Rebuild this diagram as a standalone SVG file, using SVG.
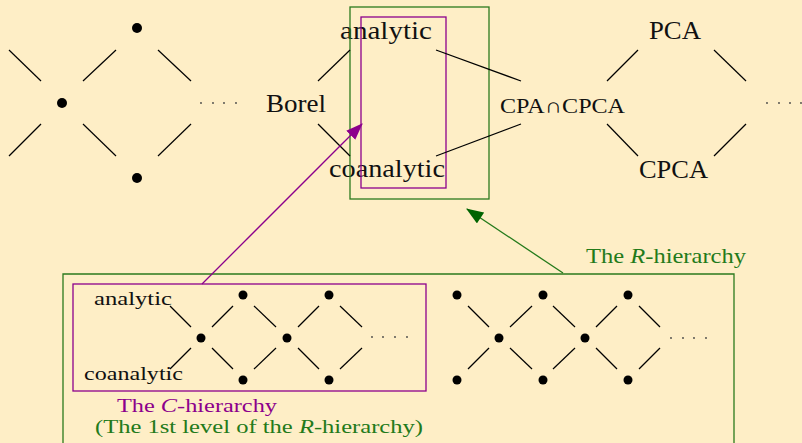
<svg xmlns="http://www.w3.org/2000/svg" width="802" height="443" viewBox="0 0 802 443">
  <style>
    .bg { fill: #feeec6; }
    .edge { stroke: #000; stroke-width: 1.2; fill: none; }
    .dot { fill: #000; }
    .ell { fill: #444; }
    .lbl { font-family: "Liberation Serif", "DejaVu Serif", serif; fill: #111; }
    .big { font-size: 25px; }
    .mid { font-size: 21px; }
    .cap { font-size: 18px; }
    .small { font-size: 19px; }
    .pbox { fill: none; stroke: #8c008c; stroke-width: 1.3; }
    .gbox { fill: none; stroke: #2b7a1e; stroke-width: 1.3; }
    .ptxt { fill: #8c008c; }
    .gtxt { fill: #237a1a; }
  </style>
  <defs>
    <marker id="headP" viewBox="0 0 16 12" refX="15" refY="6" markerWidth="17" markerHeight="13" markerUnits="userSpaceOnUse" orient="auto">
      <path d="M0,0 L16,6 L0,12 z" fill="#8c008c"/>
    </marker>
    <marker id="headG" viewBox="0 0 16 12" refX="15" refY="6" markerWidth="18" markerHeight="13" markerUnits="userSpaceOnUse" orient="auto">
      <path d="M0,0 L16,6 L0,12 z" fill="#006400"/>
    </marker>
  </defs>

  <rect class="bg" x="0" y="0" width="802" height="443"/>

  <!-- upper lattice: generic diamond on the left -->
  <g id="upper-generic">
    <circle class="dot" cx="137" cy="28" r="5"/>
    <circle class="dot" cx="62" cy="103" r="5"/>
    <circle class="dot" cx="137" cy="178" r="5"/>
    <g class="ell">
      <circle cx="201" cy="103" r="0.9"/><circle cx="213" cy="103" r="0.9"/>
      <circle cx="224" cy="103" r="0.9"/><circle cx="236" cy="103" r="0.9"/>
    </g>
  </g>

  <g id="node-borel"><text class="lbl big" x="266" y="112" textLength="60" lengthAdjust="spacingAndGlyphs">Borel</text></g>
  <g id="node-analytic"><text class="lbl big" x="340" y="39" textLength="92" lengthAdjust="spacingAndGlyphs">analytic</text></g>
  <g id="node-coanalytic"><text class="lbl big" x="329" y="177" textLength="116" lengthAdjust="spacingAndGlyphs">coanalytic</text></g>
  <g id="node-cpa-cpca"><text class="lbl mid" x="500" y="113" textLength="125" lengthAdjust="spacingAndGlyphs">CPA∩CPCA</text></g>
  <g id="node-pca"><text class="lbl big" x="649" y="39" textLength="52" lengthAdjust="spacingAndGlyphs">PCA</text></g>
  <g id="node-cpca"><text class="lbl big" x="639" y="178" textLength="69" lengthAdjust="spacingAndGlyphs">CPCA</text></g>
  <g id="upper-ellipsis" class="ell">
    <circle cx="767" cy="103" r="0.9"/><circle cx="779" cy="103" r="0.9"/>
    <circle cx="790" cy="103" r="0.9"/><circle cx="801" cy="103" r="0.9"/>
  </g>

  <!-- boxes around the first level -->
  <g id="box-r-top"><rect class="gbox" x="350" y="7" width="139" height="192"/></g>
  <g id="box-c-top"><rect class="pbox" x="361" y="17" width="85" height="171"/></g>

  <!-- lower panel: R-hierarchy -->
  <g id="panel-r">
    <path class="gbox" d="M63,450 L63,274 L734,274 L734,450"/>
    <text class="lbl mid gtxt" x="586" y="263" textLength="160" lengthAdjust="spacingAndGlyphs">The <tspan font-style="italic">R</tspan>-hierarchy</text>
    <text class="lbl cap gtxt" x="95" y="433" textLength="328" lengthAdjust="spacingAndGlyphs">(The 1st level of the <tspan font-style="italic">R</tspan>-hierarchy)</text>
  </g>

  <!-- lower panel: C-hierarchy -->
  <g id="panel-c">
    <rect class="pbox" x="73" y="284" width="353" height="107"/>
    <text class="lbl small" x="94" y="305" textLength="78" lengthAdjust="spacingAndGlyphs">analytic</text>
    <text class="lbl small" x="84" y="380" textLength="99" lengthAdjust="spacingAndGlyphs">coanalytic</text>
    <text class="lbl cap ptxt" x="117" y="412" textLength="160" lengthAdjust="spacingAndGlyphs">The <tspan font-style="italic">C</tspan>-hierarchy</text>
    <circle class="dot" cx="243" cy="295" r="4.5"/>
    <circle class="dot" cx="329" cy="295" r="4.5"/>
    <circle class="dot" cx="201" cy="338" r="4.5"/>
    <circle class="dot" cx="287" cy="338" r="4.5"/>
    <circle class="dot" cx="243" cy="380" r="4.5"/>
    <circle class="dot" cx="329" cy="380" r="4.5"/>
    <g class="ell">
      <circle cx="372" cy="337" r="0.9"/><circle cx="383" cy="337" r="0.9"/>
      <circle cx="395" cy="337" r="0.9"/><circle cx="407" cy="337" r="0.9"/>
    </g>
  </g>

  <!-- lower panel: a later level -->
  <g id="panel-level">
    <circle class="dot" cx="457" cy="295" r="4.5"/>
    <circle class="dot" cx="543" cy="295" r="4.5"/>
    <circle class="dot" cx="628" cy="295" r="4.5"/>
    <circle class="dot" cx="499" cy="338" r="4.5"/>
    <circle class="dot" cx="585" cy="338" r="4.5"/>
    <circle class="dot" cx="457" cy="380" r="4.5"/>
    <circle class="dot" cx="543" cy="380" r="4.5"/>
    <circle class="dot" cx="628" cy="380" r="4.5"/>
    <g class="ell">
      <circle cx="671" cy="338" r="0.9"/><circle cx="683" cy="338" r="0.9"/>
      <circle cx="694" cy="338" r="0.9"/><circle cx="706" cy="338" r="0.9"/>
    </g>
  </g>

  <!-- connectors -->
  <g id="connectors">
    <g class="edge">
      <!-- upper generic diamond -->
      <line x1="9" y1="50" x2="41" y2="81"/>
      <line x1="9" y1="156" x2="41" y2="124"/>
      <line x1="83" y1="81" x2="116" y2="50"/>
      <line x1="83" y1="124" x2="116" y2="156"/>
      <line x1="158" y1="50" x2="191" y2="81"/>
      <line x1="158" y1="156" x2="191" y2="124"/>
      <!-- Borel / analytic / coanalytic / CPA -->
      <line x1="318" y1="81" x2="350" y2="50"/>
      <line x1="318" y1="124" x2="350" y2="156"/>
      <line x1="436" y1="50" x2="521" y2="81"/>
      <line x1="436" y1="156" x2="521" y2="124"/>
      <line x1="607" y1="81" x2="638" y2="50"/>
      <line x1="607" y1="124" x2="638" y2="156"/>
      <line x1="714" y1="50" x2="746" y2="81"/>
      <line x1="714" y1="156" x2="746" y2="124"/>
      <!-- C-hierarchy lattice -->
      <line x1="170" y1="306" x2="191" y2="327"/>
      <line x1="170" y1="369" x2="191" y2="348"/>
      <line x1="212" y1="327" x2="233" y2="306"/>
      <line x1="212" y1="348" x2="233" y2="369"/>
      <line x1="254" y1="306" x2="276" y2="327"/>
      <line x1="254" y1="369" x2="276" y2="348"/>
      <line x1="298" y1="327" x2="319" y2="306"/>
      <line x1="298" y1="348" x2="319" y2="369"/>
      <line x1="340" y1="306" x2="362" y2="327"/>
      <line x1="340" y1="369" x2="362" y2="348"/>
      <!-- later level lattice -->
      <line x1="468" y1="306" x2="489" y2="327"/>
      <line x1="468" y1="369" x2="489" y2="348"/>
      <line x1="510" y1="327" x2="532" y2="306"/>
      <line x1="510" y1="348" x2="532" y2="369"/>
      <line x1="553" y1="306" x2="575" y2="327"/>
      <line x1="553" y1="369" x2="575" y2="348"/>
      <line x1="596" y1="327" x2="617" y2="306"/>
      <line x1="596" y1="348" x2="617" y2="369"/>
      <line x1="639" y1="306" x2="660" y2="327"/>
      <line x1="639" y1="369" x2="660" y2="348"/>
    </g>
    <!-- hierarchy pointers -->
    <line x1="202" y1="284" x2="362" y2="124" stroke="#8c008c" stroke-width="1.3" marker-end="url(#headP)"/>
    <line x1="563" y1="273" x2="467" y2="209" stroke="#237a1a" stroke-width="1.3" marker-end="url(#headG)"/>
  </g>
</svg>
